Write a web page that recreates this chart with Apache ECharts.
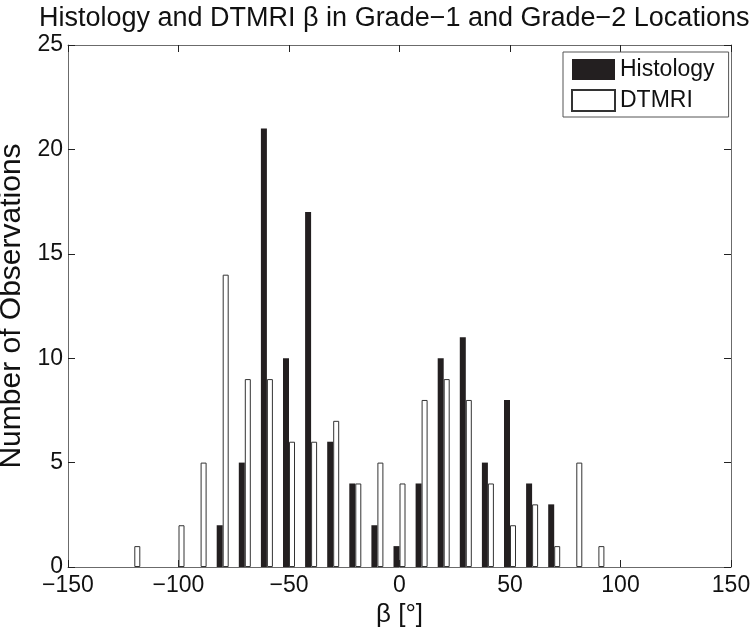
<!DOCTYPE html>
<html>
<head>
<meta charset="utf-8">
<script src="https://cdn.jsdelivr.net/npm/echarts@6/dist/echarts.min.js"></script>
<style>
  html, body { margin: 0; padding: 0; background: #fff; }
  #main { width: 754px; height: 631px; }
</style>
</head>
<body>
<div id="main"></div>
<script>
  // bin centres in degrees
  var binCenters = [-120, -110, -100, -90, -80, -70, -60, -50, -40, -30, -20, -10, 0, 10, 20, 30, 40, 50, 60, 70, 80, 90];
  var histology  = [0, 0, 0, 0, 2, 5, 21, 10, 17, 6, 4, 2, 1, 4, 10, 11, 5, 8, 4, 3, 0, 0];
  var dtmri      = [1, 0, 2, 5, 14, 9, 9, 6, 6, 7, 4, 5, 4, 8, 9, 8, 4, 2, 3, 1, 5, 1];
  var xTicks = [-150, -100, -50, 0, 50, 100, 150];
  var yTicks = [0, 5, 10, 15, 20, 25];

  var font = 'Liberation Sans, Arial, Helvetica, sans-serif';
  var frame = '#6b6b6b';

  function pairs(vals) {
    var out = [];
    for (var i = 0; i < binCenters.length; i++) {
      if (vals[i] > 0) out.push([binCenters[i], vals[i]]);
    }
    return out;
  }
  function minus(v) {
    return String(v).replace('-', '\u2212');
  }

  // shared axis bits (box around the plot, ticks inside)
  var lineStyle = { color: frame, width: 1 };
  var tickStyle = { show: true, inside: true, length: 7, lineStyle: { color: '#222' } };

  var myChart = echarts.init(document.getElementById('main'));
  var option = {
    animation: false,
    backgroundColor: '#fff',
    title: {
      text: 'Histology and DTMRI \u03b2 in Grade\u22121 and Grade\u22122 Locations',
      left: 34,
      top: 0,
      textStyle: { fontFamily: font, fontSize: 27, fontWeight: 'normal', color: '#111' }
    },
    legend: {
      orient: 'vertical',
      left: 563,
      top: 52,
      padding: [6, 14, 5, 8],
      itemGap: 8,
      itemWidth: 43,
      itemHeight: 21,
      borderColor: '#555',
      borderWidth: 1,
      backgroundColor: '#fff',
      textStyle: { fontFamily: font, fontSize: 23, color: '#111' },
      data: [
        { name: 'Histology', icon: 'rect' },
        { name: 'DTMRI', icon: 'rect' }
      ]
    },
    grid: { left: 68, right: 23, top: 45, bottom: 64, outerBoundsMode: 'none' },
    xAxis: [{
      type: 'value',
      min: xTicks[0],
      max: xTicks[xTicks.length - 1],
      interval: 50,
      name: '\u03b2 [\u00b0]',
      nameLocation: 'middle',
      nameGap: 24,
      nameTextStyle: { fontFamily: font, fontSize: 26, color: '#111' },
      axisLine: { show: true, onZero: false, lineStyle: lineStyle },
      axisTick: tickStyle,
      axisLabel: { fontFamily: font, fontSize: 23, color: '#111', margin: 7, formatter: minus },
      splitLine: { show: false }
    }, {
      type: 'value',
      position: 'top',
      min: xTicks[0],
      max: xTicks[xTicks.length - 1],
      interval: 50,
      axisLine: { show: true, onZero: false, lineStyle: lineStyle },
      axisTick: tickStyle,
      axisLabel: { show: false },
      splitLine: { show: false }
    }],
    yAxis: [{
      type: 'value',
      min: yTicks[0],
      max: yTicks[yTicks.length - 1],
      interval: 5,
      name: 'Number of Observations',
      nameLocation: 'middle',
      nameGap: 40,
      nameTextStyle: { fontFamily: font, fontSize: 30, color: '#111' },
      axisLine: { show: true, onZero: false, lineStyle: lineStyle },
      axisTick: tickStyle,
      axisLabel: { fontFamily: font, fontSize: 23, color: '#111', margin: 5 },
      splitLine: { show: false }
    }, {
      type: 'value',
      position: 'right',
      min: yTicks[0],
      max: yTicks[yTicks.length - 1],
      interval: 5,
      axisLine: { show: true, onZero: false, lineStyle: lineStyle },
      axisTick: tickStyle,
      axisLabel: { show: false },
      splitLine: { show: false }
    }],
    series: [{
      name: 'Histology',
      type: 'bar',
      barWidth: 6,
      barGap: '0%',
      itemStyle: { color: '#231f20' },
      data: pairs(histology)
    }, {
      name: 'DTMRI',
      type: 'bar',
      barWidth: 6,
      barGap: '0%',
      itemStyle: { color: '#fff', borderColor: '#333', borderWidth: 1 },
      data: pairs(dtmri)
    }]
  };
  myChart.setOption(option);
</script>
</body>
</html>
